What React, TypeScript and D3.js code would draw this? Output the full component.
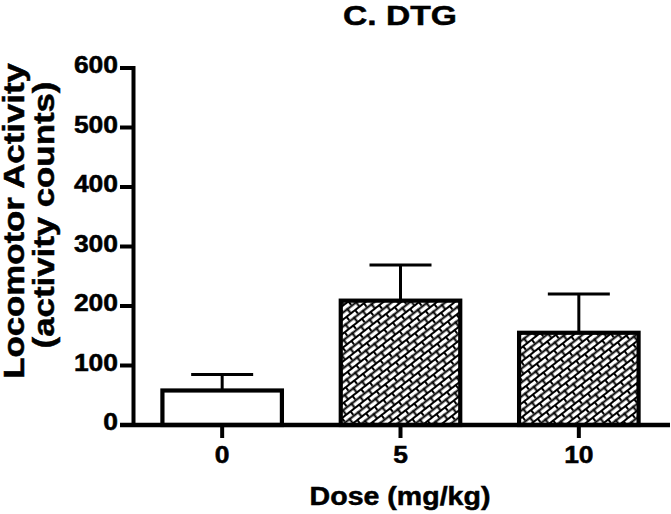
import React from 'react'
import { scaleBand, scaleLinear } from 'd3'

const doses = ['0', '5', '10']
const means = [58, 209, 155]
const errUpper = [85, 269, 220]
const patterned = [false, true, true]
const yTicks = [0, 100, 200, 300, 400, 500, 600]

const width = 671
const height = 514
const font = "'Liberation Sans', Arial, sans-serif"
const sx = 1.2

export default function App() {
  const x = scaleBand()
    .domain(doses)
    .range([133, 668])
    .paddingInner(0.33)
    .paddingOuter(0.165)
  const y = scaleLinear().domain([0, 600]).range([425, 68])

  const txt = { fontFamily: font, fontWeight: 'bold' as const, stroke: 'black', strokeWidth: 0.5 }

  return (
    <svg width={width} height={height} style={{ position: 'absolute', left: 0, top: 0 }}>
      <defs>
        <pattern id="brick" width={11} height={11} patternUnits="userSpaceOnUse" patternTransform="rotate(-38)">
          <rect width={11} height={11} fill="white" />
          <rect x={0} y={0} width={11} height={2} fill="black" />
          <rect x={0} y={5.5} width={11} height={2} fill="black" />
          <rect x={0} y={0} width={2} height={5.5} fill="black" />
          <rect x={5.5} y={5.5} width={2} height={5.5} fill="black" />
        </pattern>
      </defs>
      <rect width={width} height={height} fill="white" />

      <text transform={`translate(400,25) scale(${sx},1)`} textAnchor="middle" {...txt} fontSize={28}>C. DTG</text>

      {/* error bars */}
      {doses.map((d, i) => {
        const cx = x(d)! + x.bandwidth() / 2
        return (
          <g key={'e' + d} stroke="black" strokeWidth={3}>
            <line x1={cx} x2={cx} y1={y(means[i])} y2={y(errUpper[i])} />
            <line x1={cx - 31} x2={cx + 31} y1={y(errUpper[i])} y2={y(errUpper[i])} />
          </g>
        )
      })}

      {/* bars */}
      {doses.map((d, i) => (
        <rect key={d} x={x(d)} y={y(means[i])} width={x.bandwidth()} height={y(0) - y(means[i])}
          fill={patterned[i] ? 'url(#brick)' : 'white'} stroke="black" strokeWidth={4.2} />
      ))}

      {/* y axis */}
      <line x1={133.5} x2={133.5} y1={66} y2={427} stroke="black" strokeWidth={4} />
      {yTicks.map(t => (
        <g key={t}>
          <line x1={120} x2={133} y1={y(t)} y2={y(t)} stroke="black" strokeWidth={4} />
          <text transform={`translate(118,${y(t) + 5}) scale(1.15,1)`} textAnchor="end" {...txt} fontSize={23}>{t}</text>
        </g>
      ))}

      {/* x axis */}
      <line x1={120} x2={670} y1={425} y2={425} stroke="black" strokeWidth={4.5} />
      {doses.map(d => {
        const cx = x(d)! + x.bandwidth() / 2
        return (
          <g key={'t' + d}>
            <line x1={cx} x2={cx} y1={425} y2={438} stroke="black" strokeWidth={4} />
            <text transform={`translate(${cx},463) scale(1.15,1)`} textAnchor="middle" {...txt} fontSize={23}>{d}</text>
          </g>
        )
      })}

      <text transform={`translate(400,505) scale(1.12,1)`} textAnchor="middle" {...txt} fontSize={25.5}>Dose (mg/kg)</text>

      <text transform={`translate(24,221) rotate(-90) scale(1.18,1)`} textAnchor="middle" {...txt} fontSize={29.5}>Locomotor Activity</text>
      <text transform={`translate(54,215) rotate(-90) scale(1.18,1)`} textAnchor="middle" {...txt} fontSize={29.5}>(activity counts)</text>
    </svg>
  )
}
